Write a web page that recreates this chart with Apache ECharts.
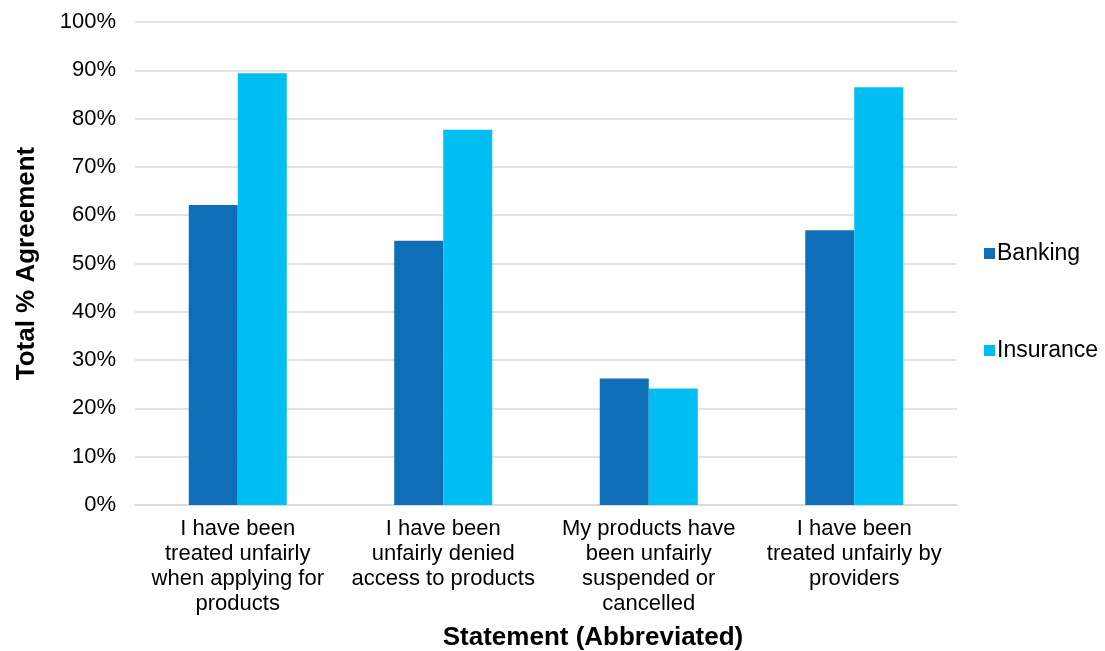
<!DOCTYPE html>
<html><head><meta charset="utf-8">
<script src="https://cdn.jsdelivr.net/npm/echarts@6/dist/echarts.min.js"></script>
<style>html,body{margin:0;padding:0;background:#fff}#c{width:1105px;height:651px}</style>
</head><body><div id="c"></div>
<script>
const categories = [
  "I have been\ntreated unfairly\nwhen applying for\nproducts",
  "I have been\nunfairly denied\naccess to products",
  "My products have\nbeen unfairly\nsuspended or\ncancelled",
  "I have been\ntreated unfairly by\nproviders"
];
const banking = [62.1, 54.7, 26.2, 56.9];
const insurance = [89.4, 77.7, 24.1, 86.5];
const seriesNames = ["Banking", "Insurance"];
const colors = ["#0E6EB8", "#00BEF2"];
const font = "'Liberation Sans', Arial, Helvetica, sans-serif";

const chart = echarts.init(document.getElementById('c'), null, {renderer: 'canvas'});
chart.setOption({
  animation: false,
  textStyle: {fontFamily: font},
  grid: {left: 135, right: 148, top: 22, bottom: 146, containLabel: false, outerBoundsMode: 'none'},
  legend: [
    {data: [seriesNames[0]], orient: 'vertical', left: 979, top: 237, itemWidth: 11, itemHeight: 11, itemGap: 0,
     textStyle: {fontSize: 23, color: '#000', fontFamily: font, padding: [0,0,0,-3]}, icon: 'rect'},
    {data: [seriesNames[1]], orient: 'vertical', left: 979, top: 334, itemWidth: 11, itemHeight: 11, itemGap: 0,
     textStyle: {fontSize: 23, color: '#000', fontFamily: font, padding: [0,0,0,-3]}, icon: 'rect'}
  ],
  xAxis: {
    type: 'category', data: categories,
    axisLine: {show: true, lineStyle: {color: '#d9d9d9', width: 1.5}},
    axisTick: {show: false},
    axisLabel: {fontSize: 22, color: '#000', lineHeight: 25, margin: 11, interval: 0, fontFamily: font},
    name: 'Statement (Abbreviated)', nameLocation: 'middle', nameGap: 120,
    nameTextStyle: {fontSize: 26, fontWeight: 'bold', color: '#000', fontFamily: font, padding: [0, 0, 0, 94]}
  },
  yAxis: {
    type: 'value', min: 0, max: 100, interval: 10,
    axisLine: {show: false}, axisTick: {show: false},
    axisLabel: {formatter: '{value}%', fontSize: 22, color: '#000', margin: 19, fontFamily: font},
    splitLine: {lineStyle: {color: '#d9d9d9', width: 1.5}},
    name: 'Total % Agreement', nameLocation: 'middle', nameGap: 95,
    nameTextStyle: {fontSize: 26, fontWeight: 'bold', color: '#000', fontFamily: font}
  },
  series: [
    {name: seriesNames[0], type: 'bar', data: banking, barWidth: 49, barGap: '0%',
     itemStyle: {color: colors[0]}},
    {name: seriesNames[1], type: 'bar', data: insurance, barWidth: 49, barGap: '0%',
     itemStyle: {color: colors[1]}}
  ]
});
</script></body></html>
